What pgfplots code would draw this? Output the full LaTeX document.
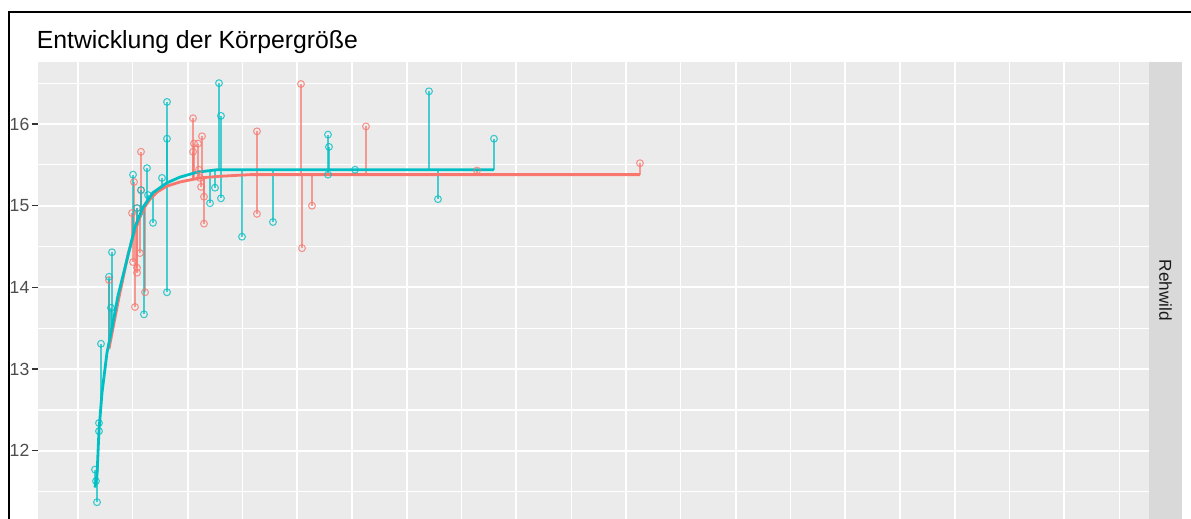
\documentclass[border=0pt]{standalone}
\usepackage{fontspec}
\setmainfont{Liberation Sans}
\usepackage{pgfplots}
\pgfplotsset{compat=1.18}
\usepackage{pgfplotstable}

\definecolor{tred}{HTML}{F8766D}
\definecolor{tteal}{HTML}{00BFC4}
\definecolor{panelbg}{HTML}{EBEBEB}
\definecolor{stripbg}{HTML}{D9D9D9}
\definecolor{ticktext}{HTML}{4D4D4D}
\definecolor{tickline}{HTML}{333333}
\definecolor{striptext}{HTML}{1A1A1A}

% teal group: x, observed value, fitted value
\pgfplotstableread{
x y fit
0.310 11.77 11.60
0.328 11.63 11.65
0.347 11.37 11.70
0.383 12.34 12.25
0.383 12.24 12.25
0.420 13.31 12.56
0.620 14.43 13.50
0.602 13.75 13.44
0.566 14.13 13.32
1.004 15.38 14.64
1.077 14.97 14.80
1.150 15.19 14.92
1.259 15.46 15.05
1.277 15.13 15.07
1.369 14.79 15.16
1.533 15.34 15.24
1.624 16.27 15.28
1.624 15.82 15.28
1.624 13.94 15.28
1.204 13.67 15.00
2.409 15.03 15.43
2.500 15.22 15.44
2.573 16.50 15.44
2.609 16.10 15.44
2.609 15.09 15.44
2.993 14.62 15.44
3.558 14.80 15.44
4.562 15.87 15.44
4.580 15.72 15.44
4.562 15.38 15.44
5.055 15.44 15.44
6.405 16.40 15.44
6.569 15.08 15.44
7.591 15.82 15.44
}\tealpts

% red group: x, observed value, fitted value
\pgfplotstableread{
x y fit
0.566 14.09 13.25
1.022 15.29 14.65
0.985 14.91 14.58
1.150 15.66 14.88
1.150 15.19 14.88
1.077 14.97 14.76
1.004 14.31 14.62
1.077 14.24 14.76
1.077 14.18 14.76
1.131 14.42 14.86
1.040 13.76 14.69
1.223 13.94 14.99
2.099 16.07 15.32
2.117 15.76 15.32
2.190 15.76 15.33
2.099 15.66 15.32
2.263 15.85 15.34
2.208 15.44 15.34
2.226 15.34 15.34
2.245 15.23 15.34
2.299 15.11 15.35
2.299 14.78 15.35
3.266 15.91 15.38
3.266 14.90 15.38
4.069 16.49 15.38
4.088 14.48 15.38
4.270 15.00 15.38
5.255 15.97 15.38
7.281 15.43 15.38
10.255 15.52 15.38
}\redpts

\pgfplotstableread{
x y
0.310 11.55
0.347 11.70
0.383 12.25
0.438 12.71
0.529 13.20
0.620 13.50
0.730 13.90
0.894 14.34
1.040 14.74
1.186 14.98
1.369 15.16
1.624 15.28
1.861 15.35
2.172 15.41
2.536 15.44
7.591 15.44
}\tealfit

\pgfplotstableread{
x y
0.566 13.25
0.730 13.82
0.912 14.40
1.004 14.62
1.131 14.86
1.223 14.99
1.314 15.08
1.450 15.17
1.624 15.24
1.861 15.29
2.226 15.34
2.591 15.36
3.139 15.38
10.255 15.38
}\redfit

\begin{document}
\begin{tikzpicture}
\path[use as bounding box] (-19pt,0pt) rectangle (576.5pt,259.5pt);
\fill[white] (-19pt,0pt) rectangle (576.5pt,259.5pt);
\begin{axis}[
  at={(0pt,0pt)}, anchor=south west,
  scale only axis, width=555.5pt, height=228.5pt,
  xmin=-0.730, xmax=19.544, ymin=11.165, ymax=16.759,
  axis background/.style={fill=panelbg},
  axis line style={draw=none},
  xtick={0,2,...,18}, minor xtick={1,3,...,19}, xticklabels={},
  ytick={12,13,14,15,16}, minor ytick={11.5,12.5,13.5,14.5,15.5,16.5},
  grid=both,
  major grid style={white, line width=1pt},
  minor grid style={white, line width=0.6pt},
  tick align=outside,
  xtick pos=lower, ytick pos=left,
  major tick length=2.75pt,
  minor tick length=0pt,
  ytick style={draw=tickline, line width=0.6pt},
  yticklabel style={font=\fontsize{8.8}{10}\selectfont, text=ticktext, inner sep=1.4pt},
  /pgf/number format/assume math mode=true,
]
\addplot[draw=tred, draw opacity=0.7, line width=0.6pt,
  quiver={u=0, v=\thisrow{fit}-\thisrow{y}}] table[x=x,y=y] {\redpts};
\addplot[only marks, mark=o, mark size=1.7pt,
  mark options={draw=tred, draw opacity=0.75, line width=0.55pt}] table[x=x,y=y] {\redpts};
\addplot[draw=tteal, draw opacity=0.7, line width=0.6pt,
  quiver={u=0, v=\thisrow{fit}-\thisrow{y}}] table[x=x,y=y] {\tealpts};
\addplot[only marks, mark=o, mark size=1.7pt,
  mark options={draw=tteal, draw opacity=0.75, line width=0.55pt}] table[x=x,y=y] {\tealpts};
\addplot[tred, line width=1.4pt, mark=none] table[x=x,y=y] {\redfit};
\addplot[tteal, line width=1.4pt, mark=none] table[x=x,y=y] {\tealfit};
\end{axis}
\fill[stripbg] (555.5pt,0pt) rectangle (572pt,228.5pt);
\node[rotate=-90, inner sep=0pt, font=\fontsize{8.6}{10}\selectfont, text=striptext] at (563.75pt,114.25pt) {Rehwild};
\node[anchor=base west, inner sep=0pt, font=\fontsize{12.4}{14}\selectfont] at (-0.8pt,235.25pt) {Entwicklung der Körpergröße};
\draw[black, line width=1pt] (-14.25pt,0pt) -- (-14.25pt,253.5pt) -- (576.5pt,253.5pt);
\end{tikzpicture}
\end{document}
